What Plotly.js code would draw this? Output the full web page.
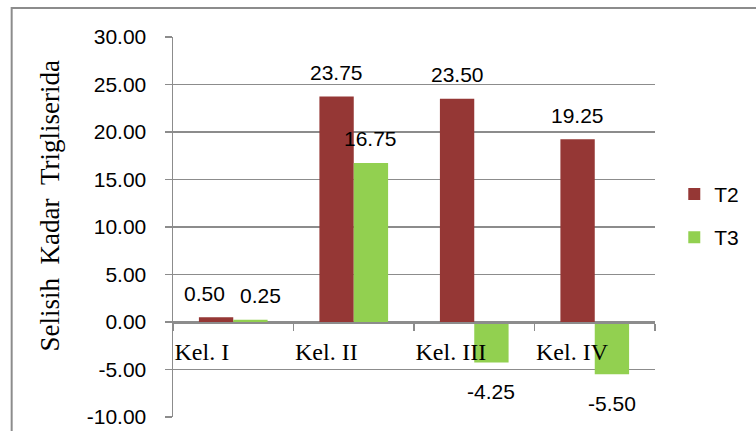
<!DOCTYPE html>
<html><head><meta charset="utf-8">
<script src="https://cdn.plot.ly/plotly-3.0.1.min.js"></script>
<style>html,body{margin:0;padding:0;background:#fff}#chart{width:756px;height:431px}</style>
</head><body><div id="chart"></div>
<script>
const categories = ['Kel. I', 'Kel. II', 'Kel. III', 'Kel. IV'];
const seriesNames = ['T2', 'T3'];
const t2Values = [0.50, 23.75, 23.50, 19.25];
const t3Values = [0.25, 16.75, -4.25, -5.50];
const yTickValues = [-10, -5, 0, 5, 10, 15, 20, 25, 30];
const yTitle = 'Selisih\u00a0\u00a0Kadar\u00a0\u00a0Trigliserida';

const colors = ['#953735', '#92D050'];
const bargap = 0.43;
const half = (1 - bargap) / 4;
const idx = categories.map((_, i) => i);
const labelXShift = [[-12, 0, 0, 0], [10, 0, 0, 0]];
const gridColor = '#8c8c8c';
const numFont = {family: 'Liberation Sans, Arial, sans-serif', size: 21, color: '#000'};
const serif = 'Liberation Serif, Times New Roman, serif';

const traces = [t2Values, t3Values].map((vals, s) => ({
  type: 'bar', x: idx, y: vals, name: seriesNames[s],
  legendgroup: 'g' + s,
  marker: {color: colors[s], line: {width: 0}},
  hoverinfo: 'skip'
}));

const annotations = [];
[t2Values, t3Values].forEach((vals, s) => {
  vals.forEach((v, i) => {
    annotations.push({
      x: i + (s === 0 ? -half : half), y: v, xref: 'x', yref: 'y',
      text: v.toFixed(2), showarrow: false, font: numFont,
      xanchor: 'center', yanchor: 'middle',
      yshift: v >= 0 ? 24 : -29, xshift: labelXShift[s][i]
    });
  });
});
annotations.push({
  xref: 'paper', yref: 'paper', x: (49 - 173) / 484, y: (417 - 206) / 380,
  xanchor: 'center', yanchor: 'middle', textangle: -90, showarrow: false,
  text: yTitle, font: {family: serif, size: 27, color: '#000'}
});

const layout = {
  width: 756, height: 431,
  margin: {l: 173, r: 99, t: 37, b: 14},
  paper_bgcolor: '#fff', plot_bgcolor: '#fff',
  barmode: 'group', bargap: bargap, bargroupgap: 0,
  showlegend: true,
  legend: {x: 1.04, y: 0.64, xanchor: 'left', yanchor: 'top',
    font: numFont, tracegroupgap: 13, bgcolor: 'rgba(0,0,0,0)'},
  xaxis: {
    type: 'linear', range: [-0.5, 3.5], anchor: 'free', position: 0.25,
    tickvals: [-0.5, 0.5, 1.5, 2.5, 3.5],
    ticktext: categories.concat(['']),
    ticklabelposition: 'outside right', ticklabelstandoff: 8,
    ticks: 'outside', ticklen: 7, tickwidth: 1.5, tickcolor: gridColor,
    showline: true, linecolor: gridColor, linewidth: 1.5,
    showgrid: false, zeroline: false,
    tickfont: {family: serif, size: 24, color: '#000'}
  },
  yaxis: {
    range: [-10, 30], tickvals: yTickValues,
    ticktext: yTickValues.map(v => v.toFixed(2)),
    ticks: 'outside', ticklen: 7, tickwidth: 1.5, tickcolor: gridColor,
    showline: true, linecolor: gridColor, linewidth: 1.5,
    showgrid: true, gridcolor: gridColor, gridwidth: 1.5,
    zeroline: false, tickfont: numFont, ticklabelstandoff: 14
  },
  annotations: annotations,
  shapes: [{type: 'rect', xref: 'paper', yref: 'paper',
    x0: (11 - 173) / 484, x1: 1.4, y0: -0.2, y1: (417 - 8) / 380,
    line: {color: '#8c8c8c', width: 2}, fillcolor: 'rgba(0,0,0,0)', layer: 'below'}]
};

Plotly.newPlot('chart', traces, layout, {staticPlot: true, displayModeBar: false});
</script></body></html>
